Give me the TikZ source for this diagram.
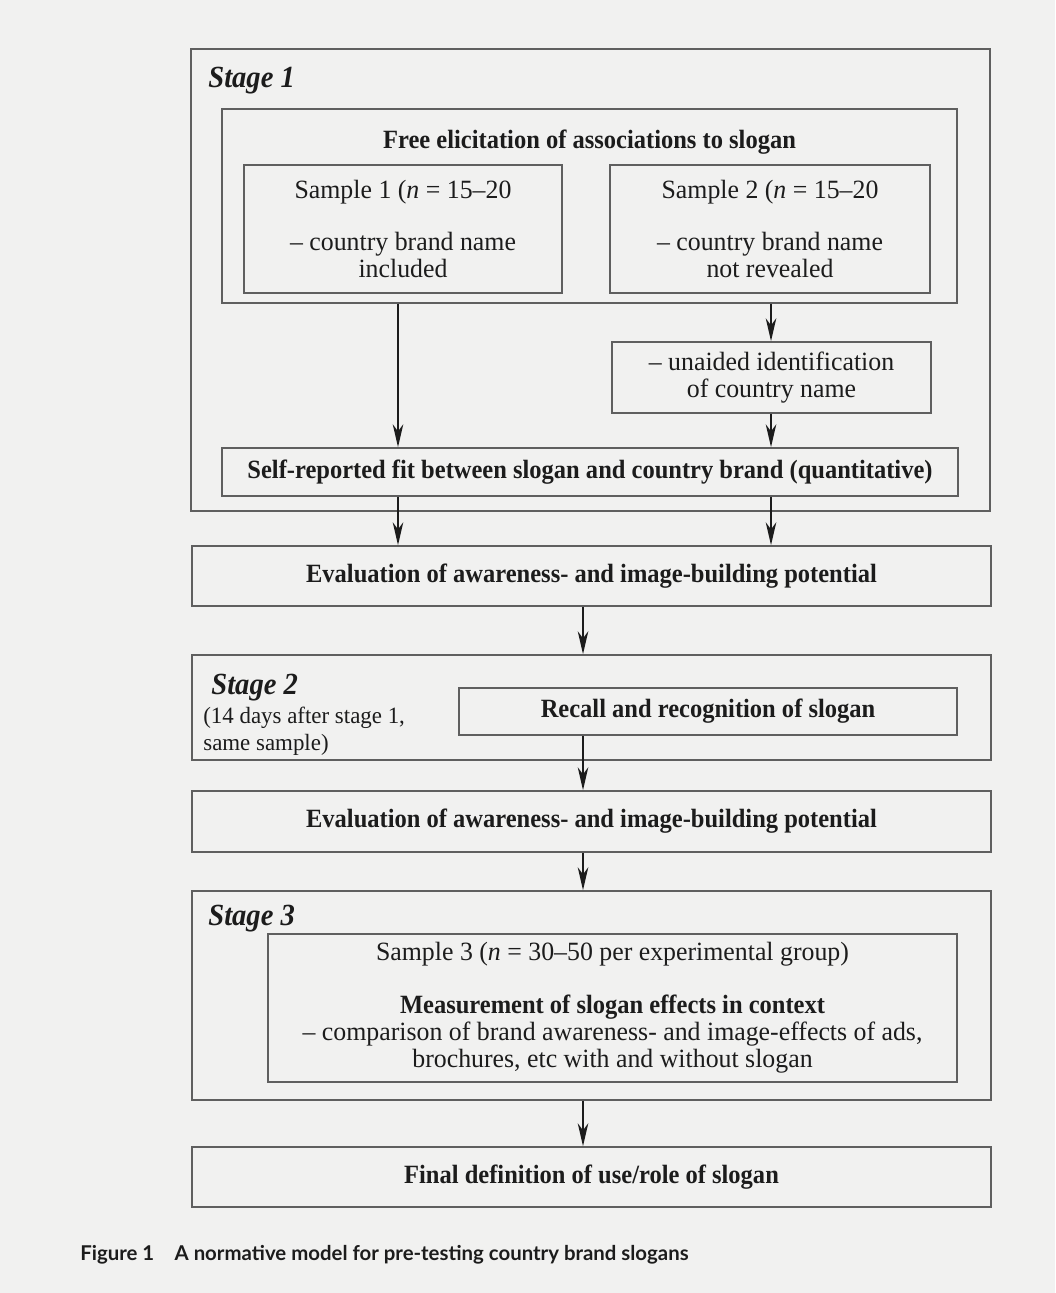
\documentclass[tikz,border=0pt]{standalone}
\usepackage{fontspec}
\setmainfont{Liberation Serif}[FakeStretch=0.98,
  BoldFeatures={FakeStretch=0.93},
  ItalicFeatures={FakeStretch=0.98},
  BoldItalicFeatures={FakeStretch=0.93}]
\newfontfamily\capfont{Lato}
\usetikzlibrary{arrows.meta,positioning}

\definecolor{paper}{RGB}{241,241,240}
\definecolor{edge}{RGB}{95,95,95}
\definecolor{ink}{RGB}{28,28,28}

\tikzset{
  box/.style={draw=edge, line width=1pt, inner sep=0pt, align=center, text=ink},
  boxtext/.style={align=center, inner sep=0pt, text=ink, font=\fontsize{15}{15.5}\selectfont},
  boldtext/.style={boxtext, font=\bfseries\fontsize{15}{15.5}\selectfont},
  stagelabel/.style={anchor=base west, inner sep=0pt, text=ink, font=\bfseries\itshape\fontsize{17.5}{20}\selectfont},
  arr/.style={-{Stealth[length=13pt,width=6pt,inset=4pt]}, line width=0.8pt, ink},
}

\begin{document}
\begin{tikzpicture}[x=0.02cm,y=-0.02cm]
        % fondo e cornice
        \fill[paper] (0,0) rectangle (1055,1293);
        \useasboundingbox (0,0) rectangle (1055,1293);

        % colonne delle frecce
        \coordinate (lcol) at (398,0);
        \coordinate (rcol) at (771,0);
        \coordinate (mcol) at (583,0);

        % Stage 1
        \node[box, minimum width=15.98cm, minimum height=9.24cm] (stage1) at (590.5,280) {};
        \node[stagelabel] (stage1lab) at (208,88) {Stage 1};
        \node[box, minimum width=14.7cm, minimum height=3.88cm] (elic) at (589.5,206) {};
        \node[boldtext] (elictxt) at (589.5,142) {Free elicitation of associations to slogan};
        \node[box, boxtext, minimum width=6.36cm, minimum height=2.56cm] (s1) at (403,229)
            {Sample 1 (\textit{n} = 15--20\\[0.95em] -- country brand name\\ included};
        \node[box, boxtext, minimum width=6.4cm, minimum height=2.56cm] (s2) at (770,229)
            {Sample 2 (\textit{n} = 15--20\\[0.95em] -- country brand name\\ not revealed};
        \node[box, boxtext, minimum width=6.38cm, minimum height=1.42cm] (unaided) at (771.5,377.5)
            {-- unaided identification\\ of country name};
        \node[box, boldtext, minimum width=14.72cm, minimum height=0.96cm] (selfrep) at (590,472)
            {Self-reported fit between slogan and country brand (quantitative)};

        \draw[arr] (elic.south -| lcol) -- (selfrep.north -| lcol);
        \draw[arr] (elic.south -| rcol) -- (unaided.north -| rcol);
        \draw[arr] (unaided.south -| rcol) -- (selfrep.north -| rcol);

        % prima valutazione
        \node[box, boldtext, minimum width=15.98cm, minimum height=1.2cm] (eval1) at (591.5,576)
            {Evaluation of awareness- and image-building potential};
        \draw[arr] (selfrep.south -| lcol) -- (eval1.north -| lcol);
        \draw[arr] (selfrep.south -| rcol) -- (eval1.north -| rcol);

        % Stage 2
        \node[box, minimum width=15.98cm, minimum height=2.1cm] (stage2) at (591.5,707.5) {};
        \node[stagelabel] (stage2lab) at (211,694) {Stage 2};
        \node[boxtext, anchor=north west, align=left, font=\fontsize{13.3}{15.3}\selectfont] (stage2note) at (203,707)
            {(14 days after stage 1,\\ same sample)};
        \node[box, boldtext, minimum width=9.96cm, minimum height=0.94cm] (recall) at (708,711.5)
            {Recall and recognition of slogan};
        \draw[arr] (eval1.south -| mcol) -- (stage2.north -| mcol);

        % seconda valutazione
        \node[box, boldtext, minimum width=15.98cm, minimum height=1.22cm] (eval2) at (591.5,821.5)
            {Evaluation of awareness- and image-building potential};
        \draw[arr] (recall.south -| mcol) -- (eval2.north -| mcol);

        % Stage 3
        \node[box, minimum width=15.98cm, minimum height=4.18cm] (stage3) at (591.5,995.5) {};
        \node[stagelabel] (stage3lab) at (208,925) {Stage 3};
        \node[box, boxtext, minimum width=13.78cm, minimum height=2.96cm] (s3) at (612.5,1008)
            {Sample 3 (\textit{n} = 30--50 per experimental group)\\[0.95em]
             \textbf{Measurement of slogan effects in context}\\
             -- comparison of brand awareness- and image-effects of ads,\\
             brochures, etc with and without slogan};
        \draw[arr] (eval2.south -| mcol) -- (stage3.north -| mcol);

        % definizione finale
        \node[box, boldtext, minimum width=15.98cm, minimum height=1.2cm] (final) at (591.5,1177)
            {Final definition of use/role of slogan};
        \draw[arr] (stage3.south -| mcol) -- (final.north -| mcol);

        % didascalia
        \node[anchor=base west, inner sep=0pt, text=ink, font=\capfont\bfseries\fontsize{11.6}{13}\selectfont] (caption) at (80,1260)
            {Figure 1\hspace{1.0em}A normative model for pre-testing country brand slogans};
    \end{tikzpicture}
\end{document}
